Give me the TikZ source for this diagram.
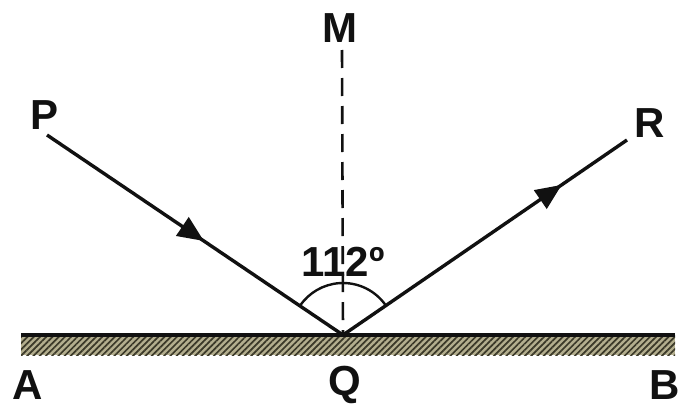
\documentclass[tikz,border=0pt]{standalone}
\usepackage{fontspec}
\setmainfont{Liberation Sans}
\usepackage{tikz}
\usetikzlibrary{arrows.meta,decorations.markings,patterns.meta}
\definecolor{inkblack}{HTML}{111111}
\definecolor{mirrorfill}{HTML}{B3AE8E}
\definecolor{mirrorhatch}{HTML}{3A3828}
\tikzset{
  label/.style={inner sep=0pt, font=\fontsize{21}{21}\selectfont\bfseries, text=inkblack},
  ray/.style={draw=inkblack, line width=1.7pt},
  midarrow/.style={postaction={decorate, decoration={markings, mark=at position #1 with {\arrow{Triangle[length=13pt, width=11pt]}}}}},
  normal/.style={draw=inkblack, line width=1.3pt, dash pattern=on 9pt off 5pt},
  mirror/.style={fill=mirrorfill, postaction={pattern={Lines[angle=45, distance=2.2pt, line width=0.85pt]}, pattern color=mirrorhatch}},
  anglearc/.style={draw=inkblack, line width=1.2pt}
}
\begin{document}
\begin{tikzpicture}[x=0.5pt, y=0.5pt]
  \useasboundingbox (0,0) rectangle (694,408);
  % mirror surface
  \path[mirror] (21,53) rectangle (675,73);
  \coordinate (a) at (21,73);
  \coordinate (b) at (675,73);
  \draw[inkblack, line width=2.2pt] (a) -- (b);

  \coordinate (q) at (343,73);
  \coordinate (p) at (47,273);
  \coordinate (r) at (627,268);
  \coordinate (m) at (342,358);

  \node[label] (plabel) at (45,293) {P};
  \node[label] (mlabel) at (340,380) {M};
  \node[label] (rlabel) at (650,285) {R};
  \node[label] (alabel) at (28,23) {A};
  \node[label] (qlabel) at (345,23) {Q};
  \node[label] (blabel) at (665,23) {B};

  \draw[normal] (m) -- (q);
  \draw[ray, midarrow=0.53] (p) -- (q);
  \draw[ray, midarrow=0.77] (q) -- (r);

  % angle between the rays
  \draw[anglearc] ([shift={(34:52)}]q) arc[start angle=34, end angle=146, radius=52];
  \node[label] (anglelabel) at (343,146) {112º};
\end{tikzpicture}
\end{document}
